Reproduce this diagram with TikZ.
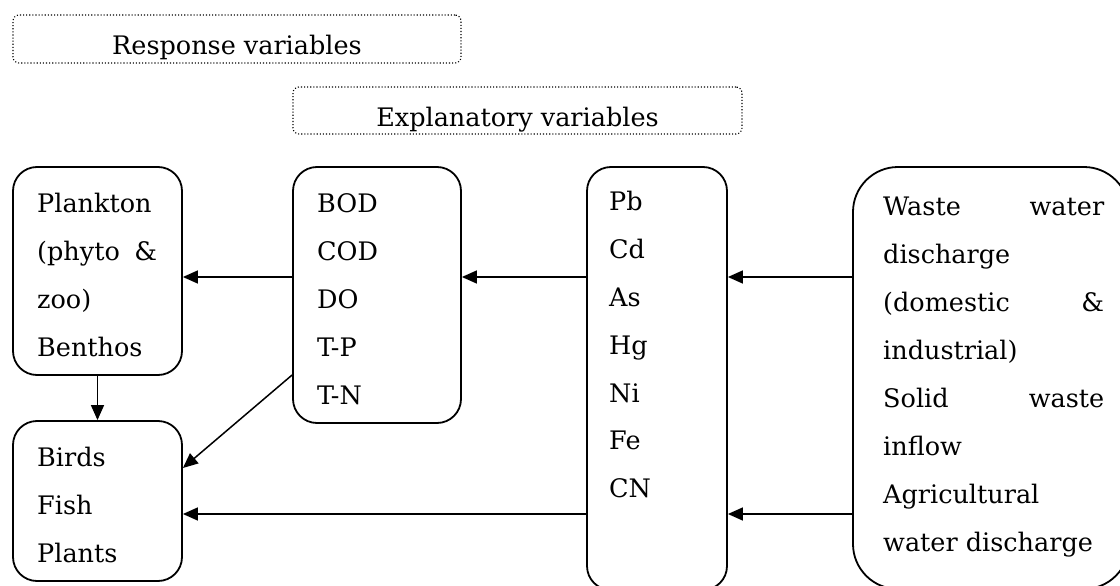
\documentclass[tikz,border=0pt]{standalone}
\usepackage{fontspec}
\setmainfont{DejaVu Serif}
\usetikzlibrary{arrows.meta}
\begin{document}
\begin{tikzpicture}[x=1pt,y=-1pt,
  font=\fontsize{25.5}{48}\selectfont,
  box/.style={draw, line width=1.8pt, rounded corners=24pt, inner sep=0pt},
  dotbox/.style={draw, dotted, line width=1.1pt, rounded corners=6pt, inner sep=0pt},
  txt/.style={anchor=base west, inner sep=0pt},
  arr/.style={line width=1.5pt, -{Triangle[length=15pt,width=13pt]}}]
\useasboundingbox (0,0) rectangle (1120,586);

% dotted title boxes
\node[dotbox, minimum width=448pt, minimum height=48pt] (resp) at (237,39) {};
\node[anchor=base, inner sep=0pt] (resptxt) at (237,55) {Response variables};
\node[dotbox, minimum width=449pt, minimum height=47pt] (expl) at (517.5,110.5) {};
\node[anchor=base, inner sep=0pt] (expltxt) at (517.5,126) {Explanatory variables};

% boxes
\node[box, minimum width=169pt, minimum height=208pt] (plank) at (97.5,271) {};
\node[box, minimum width=168pt, minimum height=256pt] (bod) at (377,295) {};
\node[box, minimum width=140pt, minimum height=423pt] (pb) at (657,378.5) {};
\node[box, rounded corners=45pt, minimum width=276pt, minimum height=422pt] (waste) at (991,378) {};
\node[box, minimum width=169pt, minimum height=160pt] (birds) at (97.5,501) {};

% texts
\node[txt] (pltxt) at (37,212) {\parbox[t]{120pt}{Plankton\\(phyto\hfill\&\\zoo)\\Benthos}};
\node[txt] (bodtxt) at (317,212) {\parbox[t]{130pt}{BOD\\COD\\DO\\T-P\\T-N}};
\node[txt] (pbtxt) at (609,210) {\parbox[t]{110pt}{Pb\\Cd\\As\\Hg\\Ni\\Fe\\CN}};
\node[txt] (wastetxt) at (883,215) {\parbox[t]{221pt}{Waste\hfill water\\discharge\\(domestic\hfill\&\\industrial)\\Solid\hfill waste\\inflow\\Agricultural\\water discharge}};
\node[txt] (birdstxt) at (37,466) {\parbox[t]{120pt}{Birds\\Fish\\Plants}};

% connectors
\coordinate (ytop) at (0,277);
\coordinate (ybot) at (0,514);
\coordinate (dgA) at (0,375);
\coordinate (dgB) at (0,468);
\draw[arr] (bod.west |- ytop) -- (plank.east |- ytop);
\draw[arr] (pb.west |- ytop) -- (bod.east |- ytop);
\draw[arr] (waste.west |- ytop) -- (pb.east |- ytop);
\draw[arr] (pb.west |- ybot) -- (birds.east |- ybot);
\draw[arr] (waste.west |- ybot) -- (pb.east |- ybot);
\draw[arr] (plank.south) -- (birds.north);
\draw[arr] (bod.west |- dgA) -- (birds.east |- dgB);
\end{tikzpicture}
\end{document}
